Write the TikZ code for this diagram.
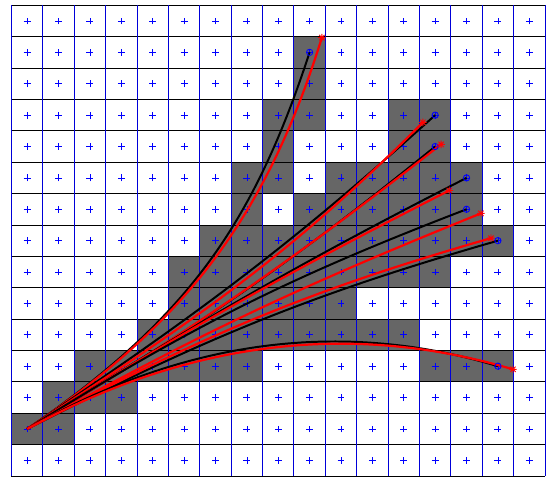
\documentclass[tikz,border=0pt]{standalone}
\usepackage{tikz}
\usepackage{xcolor}

\begin{document}
\begin{tikzpicture}[
    vline/.style={blue!85!black, line width=0.8pt},
    hline/.style={black, line width=0.7pt},
    plusmark/.style={blue, line width=0.6pt},
    goalmark/.style={blue, line width=0.8pt},
    starmark/.style={red, line width=0.8pt},
    blackcurve/.style={black, line width=1.8pt},
    redcurve/.style={red, line width=2pt}
  ]
            \useasboundingbox (-0.366,-0.041) rectangle (17.16,15.169);

            % --- OCCUPIED CELLS ---
            \fill[black!60] (9,13) rectangle (10,14);
            \fill[black!60] (9,12) rectangle (10,13);
            \fill[black!60] (8,11) rectangle (10,12);
            \fill[black!60] (12,11) rectangle (14,12);
            \fill[black!60] (8,10) rectangle (9,11);
            \fill[black!60] (12,10) rectangle (14,11);
            \fill[black!60] (7,9) rectangle (9,10);
            \fill[black!60] (10,9) rectangle (15,10);
            \fill[black!60] (7,8) rectangle (8,9);
            \fill[black!60] (9,8) rectangle (15,9);
            \fill[black!60] (6,7) rectangle (16,8);
            \fill[black!60] (5,6) rectangle (14,7);
            \fill[black!60] (5,5) rectangle (11,6);
            \fill[black!60] (4,4) rectangle (13,5);
            \fill[black!60] (2,3) rectangle (8,4);
            \fill[black!60] (13,3) rectangle (16,4);
            \fill[black!60] (1,2) rectangle (4,3);
            \fill[black!60] (0,1) rectangle (2,2);

            % --- GRID ---
            \foreach \y in {0,...,15}
                \draw[hline] (0,\y) -- (17,\y);
            \foreach \x in {0,...,17}
                \draw[vline] (\x,0) -- (\x,15);

            % cell centres
            \foreach \x in {0,...,16}
                \foreach \y in {0,...,14}
                    \draw[plusmark] (\x+0.5,\y+0.5) +(-0.11,0) -- +(0.11,0) +(0,-0.11) -- +(0,0.11);

            % --- START, GOALS AND REACHED POINTS ---
            \coordinate (start) at (0.5,1.5);
            \coordinate (goal1) at (9.5,13.5);
            \coordinate (goal2) at (13.5,11.5);
            \coordinate (goal3) at (13.5,10.5);
            \coordinate (goal4) at (14.5,9.5);
            \coordinate (goal5) at (14.5,8.5);
            \coordinate (goal6) at (15.5,7.5);
            \coordinate (goal7) at (15.5,3.5);
            \coordinate (end1) at (9.89,13.97);
            \coordinate (end2) at (13.11,11.27);
            \coordinate (end3) at (13.69,10.57);
            \coordinate (end4) at (13.95,9.1);
            \coordinate (end5) at (14.96,8.37);
            \coordinate (end6) at (15.28,7.58);
            \coordinate (end7) at (15.98,3.4);

            % --- PATHS ---
            \draw[blackcurve] (start) .. controls (5.6,5.0) and (7.7,8.0) .. (goal1);
            \draw[redcurve] (start) .. controls (5.5,4.85) and (8.1,8.2) .. (end1);
            \draw[blackcurve] (start) to[out=34,in=222] (goal2);
            \draw[redcurve] (start) to[out=33,in=225] (end2);
            \draw[blackcurve] (start) to[out=31,in=219] (goal3);
            \draw[redcurve] (start) to[out=31,in=218] (end3);
            \draw[blackcurve] (start) to[out=32,in=207] (goal4);
            \draw[redcurve] (start) to[out=32,in=207] (end4);
            \draw[blackcurve] (start) to[out=32,in=201] (goal5);
            \draw[redcurve] (start) to[out=29,in=202] (end5);
            \draw[blackcurve] (start) to[out=27,in=196] (goal6);
            \draw[redcurve] (start) to[out=28,in=196] (end6);
            \draw[blackcurve] (start) .. controls (5.5,4.35) and (10.5,5.01) .. (goal7);
            \draw[redcurve] (start) .. controls (5.63,4.3) and (10.8,4.94) .. (end7);

            % goal circles and reached stars
            \foreach \g in {goal1,goal2,goal3,goal4,goal5,goal6,goal7}
                \draw[goalmark] (\g) circle (0.1);
            \foreach \e in {end1,end2,end3,end4,end5,end6,end7}
                \draw[starmark] (\e) +(-0.12,0) -- +(0.12,0) +(0,-0.12) -- +(0,0.12)
                    +(-0.085,-0.085) -- +(0.085,0.085) +(-0.085,0.085) -- +(0.085,-0.085);

        \end{tikzpicture}
\end{document}
